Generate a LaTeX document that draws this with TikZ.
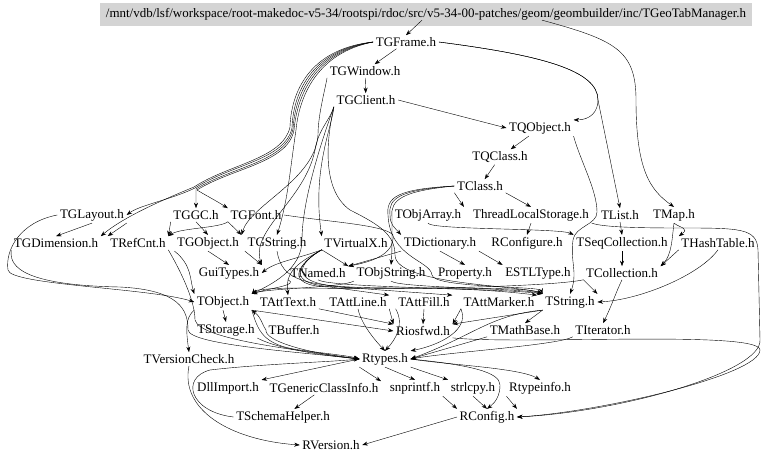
\documentclass[tikz,border=0pt]{standalone}
\usepackage{fontspec}
\setmainfont{Liberation Serif}
\usetikzlibrary{arrows.meta,calc}
\begin{document}
\begin{tikzpicture}[x=1pt,y=-1pt,
  n/.style={inner xsep=2.5pt, inner ysep=2pt, font=\fontsize{13}{15}\selectfont},
  e/.style={-{Stealth[length=5.5pt,width=4pt]}, line width=0.4pt}]
\useasboundingbox (0,0) rectangle (768,461);
\fill[black!17] (100,3) rectangle (752,26);
\node[n,inner sep=0pt] (hdr) at (426,14) {\resizebox{640pt}{!}{/mnt/vdb/lsf/workspace/root-makedoc-v5-34/rootspi/rdoc/src/v5-34-00-patches/geom/geombuilder/inc/TGeoTabManager.h}};
\node[n] (tgframe) at (406,42) {TGFrame.h};
\node[n] (tgwindow) at (365,71) {TGWindow.h};
\node[n] (tgclient) at (366,100) {TGClient.h};
\node[n] (tqobject) at (540,128) {TQObject.h};
\node[n] (tqclass) at (500,157) {TQClass.h};
\node[n] (tclass) at (480,186) {TClass.h};
\node[n] (tobjarray) at (428,215) {TObjArray.h};
\node[n] (tls) at (531,215) {ThreadLocalStorage.h};
\node[n] (tlist) at (620,215) {TList.h};
\node[n] (tmap) at (674,215) {TMap.h};
\node[n] (tglayout) at (92,215) {TGLayout.h};
\node[n] (tggc) at (196,215) {TGGC.h};
\node[n] (tgfont) at (256,215) {TGFont.h};
\node[n] (tgdim) at (56,243) {TGDimension.h};
\node[n] (trefcnt) at (138,243) {TRefCnt.h};
\node[n] (tgobject) at (208,243) {TGObject.h};
\node[n] (tgstring) at (277,243) {TGString.h};
\node[n] (tvirtualx) at (356,243) {TVirtualX.h};
\node[n] (tdict) at (440,243) {TDictionary.h};
\node[n] (rconfigure) at (527,243) {RConfigure.h};
\node[n] (tseqcoll) at (622,243) {TSeqCollection.h};
\node[n] (thash) at (718,243) {THashTable.h};
\node[n] (guitypes) at (229,273) {GuiTypes.h};
\node[n] (tnamed) at (318,273) {TNamed.h};
\node[n] (tobjstring) at (391,273) {TObjString.h};
\node[n] (property) at (465,273) {Property.h};
\node[n] (estl) at (538,273) {ESTLType.h};
\node[n] (tcoll) at (622,273) {TCollection.h};
\node[n] (tobject) at (223,302) {TObject.h};
\node[n] (tatttext) at (288,302) {TAttText.h};
\node[n] (tattline) at (358,302) {TAttLine.h};
\node[n] (tattfill) at (424,302) {TAttFill.h};
\node[n] (tattmarker) at (499,302) {TAttMarker.h};
\node[n] (tstring) at (570,302) {TString.h};
\node[n] (tstorage) at (226,330) {TStorage.h};
\node[n] (tbuffer) at (294,330) {TBuffer.h};
\node[n] (riosfwd) at (423,331) {Riosfwd.h};
\node[n] (tmathbase) at (525,330) {TMathBase.h};
\node[n] (titerator) at (603,330) {TIterator.h};
\node[n] (tversion) at (189,359) {TVersionCheck.h};
\node[n] (rtypes) at (385,359) {Rtypes.h};
\node[n] (dllimport) at (228,388) {DllImport.h};
\node[n] (tgeneric) at (324,388) {TGenericClassInfo.h};
\node[n] (snprintf) at (415,388) {snprintf.h};
\node[n] (strlcpy) at (473,388) {strlcpy.h};
\node[n] (rtypeinfo) at (540,388) {Rtypeinfo.h};
\node[n] (tschema) at (283,417) {TSchemaHelper.h};
\node[n] (rconfig) at (487,417) {RConfig.h};
\node[n] (rversion) at (331,445) {RVersion.h};
% top
\draw[e] ($(hdr.south)+(-4,0)$) -- (tgframe.north);
\draw[e] ($(hdr.south)+(116,0)$) .. controls (615,40) and (636,50) .. (636,100) .. controls (636,170) and (650,190) .. (tmap.north);
\draw[e] (tgframe) -- (tgwindow);
\draw[e] (tgframe.east) .. controls (540,55) and (598,70) .. (598,100) .. controls (598,112) and (590,120) .. (tqobject.north east);
\draw[e] (tgframe.east) .. controls (540,55) and (598,70) .. (598,100) -- (tlist.north);
\draw[e] (tgframe.west) .. controls (310,50) and (293,95) .. (292,128) .. controls (285,160) and (230,165) .. (195,188) .. controls (170,200) and (140,205) .. (tglayout.east);
\draw[e] (tgframe.west) .. controls (312,51) and (295,96) .. (293,129) .. controls (286,162) and (231,167) .. (196,189) -- (tggc.north);
\draw[e] (tgframe.west) .. controls (314,52) and (297,97) .. (294,130) .. controls (288,163) and (232,168) .. (197,190) .. controls (205,195) and (215,200) .. (tgfont.north west);
\draw[e] (tgframe.west) .. controls (308,49) and (291,94) .. (290,127) .. controls (283,159) and (229,164) .. (194,187) .. controls (150,205) and (120,220) .. (tgdim.north east);
\draw[e] (tgframe.west) .. controls (316,53) and (299,98) .. (296,130) .. controls (290,170) and (288,200) .. (tgstring.north);
\draw[e] (tgwindow) -- (tgclient);
\draw[e] (tgclient.east) -- (tqobject.west);
\draw[e] (tgwindow.south west) .. controls (325,90) and (318,115) .. (318,135) .. controls (315,180) and (250,205) .. (tgobject.north east);
\draw[e] (tgclient.south west) .. controls (330,120) and (318,130) .. (315,150) .. controls (305,200) and (250,230) .. (guitypes.north east);
\draw[e] (tgclient.south west) .. controls (332,127) and (312,170) .. (tvirtualx.north west);
\draw[e] (tgclient.south west) .. controls (322,140) and (302,200) .. (302,240) .. controls (302,270) and (270,285) .. (tobject.north east);
\draw[e] (tgclient.south west) .. controls (326,142) and (322,190) .. (350,210) .. controls (380,225) and (395,235) .. (395,255) .. controls (395,285) and (520,285) .. (tstring.north west);
% gui level
\draw[e] (tgfont.east) .. controls (330,222) and (385,225) .. (393,235) .. controls (395,255) and (370,262) .. (tnamed.north east);
\draw[e] (tgfont.south west) -- (tgobject.north east);
\draw[e] (tgfont.south west) .. controls (220,228) and (180,228) .. (trefcnt.north east);
\draw[e] (tggc.south) -- (tgobject.north);
\draw[e] (tggc.south west) -- (trefcnt.north east);
\draw[e] (tglayout.south) -- (tgdim.north);
\draw[e] (tglayout.south east) -- (trefcnt.north west);
\draw[e] (tglayout.west) .. controls (20,222) and (5,250) .. (8,270) .. controls (10,285) and (150,288) .. (tobject.west);
\draw[e] (tgdim.south west) .. controls (10,262) and (12,285) .. (120,287) .. controls (180,290) and (188,310) .. (188,330) .. controls (190,345) and (300,352) .. (rtypes.west);
\draw[e] (trefcnt.south east) .. controls (180,270) and (195,300) .. (195,320) .. controls (200,340) and (300,350) .. (rtypes.west);
\draw[e] (tgobject.south) -- (guitypes.north);
\draw[e] (tgobject.south west) .. controls (192,265) and (190,280) .. (tobject.north west);
\draw[e] (tgstring.south west) -- (guitypes.north east);
\draw[e] (tgstring.south) .. controls (282,280) and (300,288) .. (400,288) .. controls (480,288) and (530,288) .. (tstring.north west);
\draw[e] (tvirtualx.south west) -- (tnamed.north east);
\draw[e] (tvirtualx.south west) .. controls (300,258) and (275,262) .. (guitypes.east);
\draw[e] (tvirtualx.south west) .. controls (300,262) and (285,270) .. (tatttext.north);
\draw[e] (tvirtualx.south west) .. controls (300,262) and (280,286) .. (330,287) -- (tattline.north east);
\draw[e] (tvirtualx.south west) .. controls (300,262) and (280,286) .. (340,287) -- (tattfill.north east);
\draw[e] (tvirtualx.south west) .. controls (300,262) and (280,286) .. (360,288) .. controls (420,288) and (480,288) .. (tattmarker.north east);
% dictionary/class
\draw[e] (tdict.south west) -- (tnamed.north east);
\draw[e] (tdict.south) -- (property.north);
\draw[e] (tdict.south east) -- (estl.north west);
\draw[e] (tqobject) -- (tqclass);
\draw[e] (tqclass) -- (tclass);
\draw[e] (tclass.south west) -- (tobjarray.north east);
\draw[e] (tclass.south east) -- (tls.north);
\draw[e] (tclass.west) .. controls (400,190) and (388,198) .. (390,215) .. controls (390,225) and (395,228) .. (tdict.north west);
\draw[e] (tclass.west) .. controls (402,191) and (390,200) .. (392,217) .. controls (392,240) and (392,255) .. (tobjstring.north);
\draw[e] (tclass.west) .. controls (398,189) and (386,197) .. (388,215) .. controls (390,258) and (430,260) .. (432,275) .. controls (433,288) and (540,286) .. (tstring.north west);
\draw[e] (tobjarray.south) .. controls (430,230) and (560,228) .. (tseqcoll.north west);
\draw[e] (tls.south) -- (rconfigure.north);
\draw[e] (tls.south east) .. controls (600,226) and (620,228) .. (680,228) .. controls (740,228) and (757,228) .. (758,250) -- (760,340) .. controls (762,372) and (620,412) .. (rconfig.east);
\draw[e] (tqobject.south east) .. controls (580,160) and (597,190) .. (597,212) .. controls (597,225) and (575,226) .. (573,240) .. controls (570,262) and (578,272) .. (tstring.north);
% collections
\draw[e] (tlist.south) -- (tseqcoll.north);
\draw[e] (tmap.south) .. controls (680,228) and (690,228) .. (thash.north west);
\draw[e] (tmap.south) .. controls (672,238) and (672,255) .. (tcoll.north east);
\draw[e] (thash.south west) -- (tcoll.north east);
\draw[e] (thash.south) .. controls (700,275) and (640,300) .. (tstring.east);
\draw[e] (tseqcoll) -- (tcoll);
\draw[e] (tcoll.south west) -- (tstring.north east);
\draw[e] (tcoll.south) .. controls (616,292) and (612,305) .. (titerator.north);
\draw[e] (tcoll.south west) .. controls (560,285) and (450,290) .. (300,288) .. controls (270,288) and (255,290) .. (tobject.north east);
\draw[e] (tnamed.south west) .. controls (300,285) and (270,288) .. (tobject.north east);
\draw[e] (tnamed.south) .. controls (330,288) and (500,288) .. (tstring.north west);
\draw[e] (tobjstring.south west) .. controls (340,288) and (270,288) .. (tobject.north east);
\draw[e] (tobjstring.south) .. controls (400,288) and (520,288) .. (tstring.north west);
% object level
\draw[e] (tobject.south) -- (tstorage.north);
\draw[e] (tobject.south west) .. controls (185,318) and (186,330) .. (tversion.north);
\draw[e] (tobject.south east) -- (riosfwd.west);
\draw[e] (tbuffer.west) .. controls (262,325) and (262,318) .. (tobject.south east);
\draw[e] (tobject.south east) .. controls (258,330) and (262,345) .. (300,350) .. controls (330,354) and (350,356) .. (rtypes.west);
\draw[e] (tbuffer.west) .. controls (265,340) and (300,352) .. (rtypes.west);
\draw[e] (tstorage.south east) .. controls (280,350) and (330,356) .. (rtypes.west);
\draw[e] (tatttext.south east) -- (riosfwd.north west);
\draw[e] (tattline.south) .. controls (360,320) and (370,335) .. (rtypes.north);
\draw[e] (tattline.south east) -- (riosfwd.north west);
\draw[e] (tattfill.south) -- (riosfwd.north);
\draw[e] (tattfill.south west) .. controls (405,325) and (395,340) .. (rtypes.north);
\draw[e] (tattmarker.south west) -- (riosfwd.north east);
\draw[e] (tattmarker.south west) .. controls (470,330) and (440,345) .. (rtypes.north east);
\draw[e] (tstring.south west) -- (riosfwd.north east);
\draw[e] (tstring.south west) -- (tmathbase.north);
\draw[e] (tstring.south west) .. controls (490,315) and (475,335) .. (rtypes.east);
\draw[e] (tmathbase.south west) -- (rtypes.east);
\draw[e] (titerator.south west) .. controls (560,345) and (450,352) .. (rtypes.east);
\draw[e] (riosfwd.south east) .. controls (520,345) and (760,330) .. (760,350) .. controls (760,375) and (600,412) .. (rconfig.east);
% rtypes level
\draw[e] (rtypes.west) -- (dllimport.north east);
\draw[e] (rtypes.south west) -- (tgeneric.north east);
\draw[e] (rtypes.south) -- (snprintf.north);
\draw[e] (rtypes.south east) -- (strlcpy.north west);
\draw[e] (rtypes.east) .. controls (450,365) and (520,368) .. (rtypeinfo.north);
\draw[e] (rtypes.east) .. controls (470,365) and (500,372) .. (500,385) .. controls (500,395) and (496,402) .. (rconfig.north);
\draw[e] (tgeneric) -- (tschema);
\draw[e] (tschema.west) .. controls (190,412) and (180,378) .. (210,370) .. controls (260,364) and (330,362) .. (rtypes.west);
\draw[e] (tversion.south) .. controls (180,410) and (230,440) .. (rversion.west);
\draw[e] (rconfig.west) -- (rversion.east);
\draw[e] (snprintf.south east) -- (rconfig.north west);
\draw[e] (strlcpy.south) -- (rconfig.north);
\draw[e] (rtypeinfo.south west) -- (rconfig.north east);
\end{tikzpicture}
\end{document}
